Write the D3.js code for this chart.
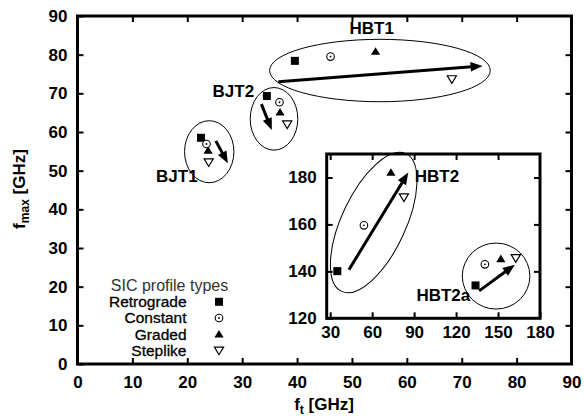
<!DOCTYPE html>
<html>
<head>
<meta charset="utf-8">
<script src="https://cdn.jsdelivr.net/npm/d3@7"></script>
<style>
  body { margin: 0; background: #fff; }
  svg { display: block; font-family: "Liberation Sans", Arial, sans-serif; }
</style>
</head>
<body>
<svg id="chart" width="584" height="416"></svg>
<script>
// ---- data ----
const profileTypes = ['Retrograde', 'Constant', 'Graded', 'Steplike'];

// main plot: BJT1, BJT2, HBT1 (values in profileTypes order)
const mainGroups = ['BJT1', 'BJT2', 'HBT1'];
const mainFt   = [[22.5, 23.5, 23.8, 23.9], [34.5, 36.8, 36.9, 38.2], [39.6, 46.1, 54.3, 68.2]];
const mainFmax = [[58.5, 56.9, 55.2, 52.2], [69.3, 67.7, 65.1, 62.0], [78.4, 79.5, 80.8, 73.7]];
// arrows [ftStart, fmaxStart, ftEnd, fmaxEnd]
const mainArrows = [[25.2, 57.7, 27.4, 51.9], [33.5, 67.2, 35.4, 60.5], [36.6, 73.0, 73.8, 77.1]];
// ellipse centers [ft, fmax]
const mainEllipses = [[24.0, 54.9], [35.8, 63.4], [55.1, 75.9]];
const mainLabels = [[18.1, 48.6], [28.4, 70.7], [53.6, 86.8]];

// inset: HBT2, HBT2a
const insetGroups = ['HBT2', 'HBT2a'];
const insetFt   = [[35.1, 54.1, 73.4, 82.7], [133.9, 140.6, 152.0, 162.7]];
const insetFmax = [[140.1, 159.6, 182.1, 171.6], [134.0, 143.0, 145.3, 145.7]];
const insetArrows = [[43.4, 140.7, 85.8, 182.1], [136.5, 131.7, 162.0, 142.8]];
const insetEllipses = [[61.1, 160.8], [148.6, 138.0]];
const insetLabels = [[106.3, 180.4], [110.9, 130.0]];

const mainTicks = d3.range(0, 91, 10);
const insetXTicks = [30, 60, 90, 120, 150, 180];
const insetYTicks = [120, 140, 160, 180];

// ---- layout ----
const svg = d3.select('#chart');
const FONT = 17;
const main = { left: 77.5, right: 571.5, top: 16, bottom: 364 };
const inset = { left: 326.7, right: 540, top: 154, bottom: 318.3 };

// pixel sizes of the ellipses [rx, ry, rotation deg]
const mainEllipseSize = [[24.7, 31, 0], [23.8, 31.3, 0], [110.3, 31.2, 0]];
const insetEllipseSize = [[76, 32, -65], [33.8, 33, 0]];

const x = d3.scaleLinear().domain([0, 90]).range([main.left, main.right]);
const y = d3.scaleLinear().domain([0, 90]).range([main.bottom, main.top]);
const xi = d3.scaleLinear().domain([27.5, 180]).range([inset.left, inset.right]);
const yi = d3.scaleLinear().domain([120, 190]).range([inset.bottom, inset.top]);

// 四辺に内向きの目盛りを描く
function drawFrame(box, sx, sy, xTicks, yTicks, xPad, yPad) {
    const g = svg.append('g');
    g.append('rect')
        .attr('x', box.left).attr('y', box.top)
        .attr('width', box.right - box.left).attr('height', box.bottom - box.top)
        .attr('fill', '#fff');

    const styleAxis = a => {
        a.select('.domain').remove();
        a.selectAll('line').attr('stroke', '#000').attr('stroke-width', 2);
        a.selectAll('text')
            .attr('fill', '#000')
            .style('font-size', FONT + 'px')
            .style('font-weight', 'bold')
            .style('font-family', '"Liberation Sans", Arial, sans-serif');
    };

    g.append('g').attr('transform', `translate(0,${box.bottom})`)
        .call(d3.axisBottom(sx).tickValues(xTicks).tickSizeInner(-6).tickSizeOuter(0).tickPadding(xPad))
        .call(styleAxis);
    g.append('g').attr('transform', `translate(0,${box.top})`)
        .call(d3.axisTop(sx).tickValues(xTicks.filter(t => sx(t) > box.left + 2 && sx(t) < box.right - 2)).tickSizeInner(-6).tickSizeOuter(0).tickFormat(''))
        .call(styleAxis);
    g.append('g').attr('transform', `translate(${box.left},0)`)
        .call(d3.axisLeft(sy).tickValues(yTicks).tickSizeInner(-6).tickSizeOuter(0).tickPadding(yPad))
        .call(styleAxis);
    g.append('g').attr('transform', `translate(${box.right},0)`)
        .call(d3.axisRight(sy).tickValues(yTicks.filter(t => sy(t) > box.top + 2 && sy(t) < box.bottom - 2)).tickSizeInner(-6).tickSizeOuter(0).tickFormat(''))
        .call(styleAxis);

    g.append('rect')
        .attr('x', box.left).attr('y', box.top)
        .attr('width', box.right - box.left).attr('height', box.bottom - box.top)
        .attr('fill', 'none').attr('stroke', '#000').attr('stroke-width', 3);
    return g;
}

// マーカー
function drawMarker(g, type, cx, cy) {
    if (type === 'Retrograde') {
        g.append('rect').attr('x', cx - 4).attr('y', cy - 4)
            .attr('width', 8).attr('height', 8).attr('fill', '#000');
    } else if (type === 'Constant') {
        g.append('circle').attr('cx', cx).attr('cy', cy).attr('r', 3.8)
            .attr('fill', '#fff').attr('stroke', '#000').attr('stroke-width', 1.1);
        g.append('circle').attr('cx', cx).attr('cy', cy).attr('r', 0.9).attr('fill', '#000');
    } else if (type === 'Graded') {
        g.append('path')
            .attr('d', `M${cx},${cy - 4.3} L${cx + 4.6},${cy + 3.3} L${cx - 4.6},${cy + 3.3} Z`)
            .attr('fill', '#000');
    } else {
        g.append('path')
            .attr('d', `M${cx - 4.6},${cy - 3.3} L${cx + 4.6},${cy - 3.3} L${cx},${cy + 4.3} Z`)
            .attr('fill', '#fff').attr('stroke', '#000').attr('stroke-width', 1.2);
    }
}

function drawArrow(g, x1, y1, x2, y2) {
    const ang = Math.atan2(y2 - y1, x2 - x1);
    const headLen = 12, headW = 4.8;
    const bx = x2 - headLen * Math.cos(ang), by = y2 - headLen * Math.sin(ang);
    g.append('line')
        .attr('x1', x1).attr('y1', y1).attr('x2', bx + Math.cos(ang)).attr('y2', by + Math.sin(ang))
        .attr('stroke', '#000').attr('stroke-width', 3);
    const px = -Math.sin(ang) * headW, py = Math.cos(ang) * headW;
    g.append('path')
        .attr('d', `M${x2},${y2} L${bx + px},${by + py} L${bx - px},${by - py} Z`)
        .attr('fill', '#000');
}

function drawGroups(g, sx, sy, names, ft, fmax, arrows, ellipses, sizes, labels) {
    names.forEach((name, i) => {
        const [ex, ey] = ellipses[i];
        const [rx, ry, rot] = sizes[i];
        g.append('ellipse')
            .attr('cx', 0).attr('cy', 0).attr('rx', rx).attr('ry', ry)
            .attr('transform', `translate(${sx(ex)},${sy(ey)}) rotate(${rot})`)
            .attr('fill', 'none').attr('stroke', '#000').attr('stroke-width', 1);

        const a = arrows[i];
        drawArrow(g, sx(a[0]), sy(a[1]), sx(a[2]), sy(a[3]));

        profileTypes.forEach((t, j) => drawMarker(g, t, sx(ft[i][j]), sy(fmax[i][j])));

        g.append('text')
            .attr('x', sx(labels[i][0])).attr('y', sy(labels[i][1]))
            .attr('dy', '0.35em')
            .attr('text-anchor', 'middle')
            .style('font-size', FONT + 'px')
            .style('font-weight', 'bold')
            .text(name);
    });
}

// ---- main plot ----
drawFrame(main, x, y, mainTicks, mainTicks, 12, 10);
drawGroups(svg.append('g'), x, y, mainGroups, mainFt, mainFmax, mainArrows, mainEllipses, mainEllipseSize, mainLabels);

// axis labels
const xLabel = svg.append('text')
    .attr('x', 324).attr('y', 410)
    .attr('text-anchor', 'middle')
    .style('font-size', FONT + 'px').style('font-weight', 'bold');
xLabel.append('tspan').text('f');
xLabel.append('tspan').attr('dy', 4).style('font-size', '12px').text('t');
xLabel.append('tspan').attr('dy', -4).text(' [GHz]');

const yLabel = svg.append('text')
    .attr('transform', 'translate(25,189) rotate(-90)')
    .attr('text-anchor', 'middle')
    .style('font-size', FONT + 'px').style('font-weight', 'bold');
yLabel.append('tspan').text('f');
yLabel.append('tspan').attr('dy', 4).style('font-size', '12px').text('max');
yLabel.append('tspan').attr('dy', -4).text(' [GHz]');

// legend
const legend = svg.append('g');
legend.append('text')
    .attr('x', 169.5).attr('y', 290.5)
    .attr('text-anchor', 'middle')
    .attr('fill', '#333')
    .style('font-size', '16px')
    .text('SIC profile types');
profileTypes.forEach((t, j) => {
    const ly = 301.8 + j * 16.2;
    legend.append('text')
        .attr('x', 186.5).attr('y', ly).attr('dy', '0.35em')
        .attr('text-anchor', 'end')
        .attr('fill', '#000')
        .attr('stroke', '#000').attr('stroke-width', 0.3)
        .style('font-size', '15.5px')
        .text(t);
    drawMarker(legend, t, 219, ly);
});

// ---- inset ----
drawFrame(inset, xi, yi, insetXTicks, insetYTicks, 8, 10);
drawGroups(svg.append('g'), xi, yi, insetGroups, insetFt, insetFmax, insetArrows, insetEllipses, insetEllipseSize, insetLabels);
</script>
</body>
</html>
